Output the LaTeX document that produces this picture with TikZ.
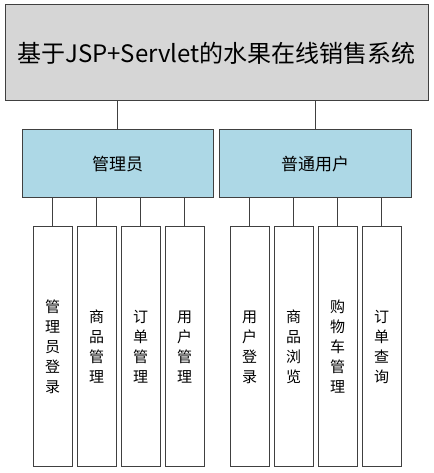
\documentclass[tikz,border=0pt]{standalone}
\usepackage{fontspec}
\setmainfont{Noto Sans CJK SC}
\definecolor{titlegray}{HTML}{D6D6D6}
\definecolor{roleblue}{HTML}{ADD8E6}
\tikzset{
  box/.style={draw=black!75, line width=1pt, inner sep=0pt, align=center},
  titlebox/.style={box, fill=titlegray, minimum width=423pt, minimum height=96pt, font=\fontsize{24}{28}\selectfont},
  rolebox/.style={box, fill=roleblue, minimum width=191pt, minimum height=68pt, font=\fontsize{17}{20}\selectfont},
  funcbox/.style={box, fill=white, minimum width=39pt, minimum height=240pt, font=\fontsize{15}{20}\selectfont},
  link/.style={draw=black!75, line width=1pt}
}
\begin{document}
\begin{tikzpicture}[x=1pt, y=1pt]
\useasboundingbox (0,0) rectangle (433,473);

\node[titlebox] (sys) at (216.5,420) {基于JSP+Servlet的水果在线销售系统};

\node[rolebox] (admin) at (117.5,309) {管理员};
\node[rolebox, minimum width=192pt] (user) at (315,309) {普通用户};
\draw[link] (admin.north) -- (admin.north |- sys.south);
\draw[link] (user.north) -- (user.north |- sys.south);

% 管理员功能
\foreach \i/\t in {0/管\\理\\员\\登\\录, 1/商\\品\\管\\理, 2/订\\单\\管\\理, 3/用\\户\\管\\理}
{
  \node[funcbox] (a\i) at (52.5+44*\i,126) {\t};
  \draw[link] (a\i.north) -- (a\i.north |- admin.south);
}
% 普通用户功能
\foreach \i/\t in {0/用\\户\\登\\录, 1/商\\品\\浏\\览, 2/购\\物\\车\\管\\理, 3/订\\单\\查\\询}
{
  \node[funcbox] (u\i) at (249.5+44*\i,126) {\t};
  \draw[link] (u\i.north) -- (u\i.north |- user.south);
}
\end{tikzpicture}
\end{document}
